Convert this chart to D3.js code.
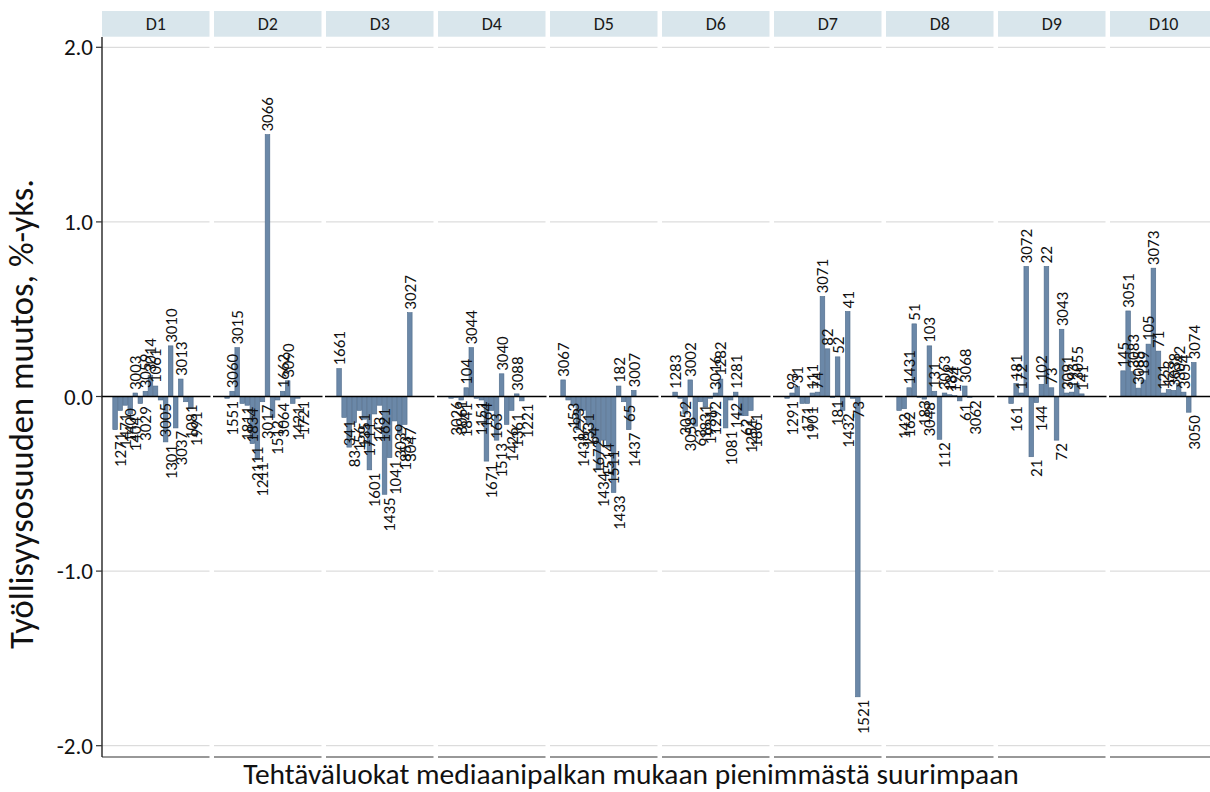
<!DOCTYPE html>
<html><head><meta charset="utf-8">
<script src="https://cdn.jsdelivr.net/npm/d3@7"></script>
<style>body{margin:0;background:#fff;} svg{display:block;}</style>
</head><body>
<svg id="chart" width="1210" height="792"></svg>
<script>
const deciles = ["D1","D2","D3","D4","D5","D6","D7","D8","D9","D10"];
const yTicks = [2, 1, 0, -1, -2];
const yTickLabels = ["2.0", "1.0", "0.0", "-1.0", "-2.0"];
const yTitle = "Työllisyysosuuden muutos, %-yks.";
const xTitle = "Tehtäväluokat mediaanipalkan mukaan pienimmästä suurimpaan";

const labelsD1 = ["1271","1471","1400","1404","3003","3029","3059","3014","1061","3005","1301","3010","3037","3013","1081","1991"];
const valuesD1 = [-0.19,-0.08,-0.05,-0.10,0.02,-0.04,0.03,0.12,0.06,-0.02,-0.26,0.29,-0.18,0.10,-0.03,-0.07];
const labelsD2 = ["1551","3060","3015","1811","1834","2111","1211","3017","3066","1512","3064","1662","3090","1421","1721"];
const valuesD2 = [-0.01,0.03,0.28,-0.04,-0.05,-0.27,-0.36,-0.03,1.50,-0.12,-0.02,0.03,0.09,-0.04,-0.01];
const labelsD3 = ["1661","341","83","156","1351","1711","1601","143","1621","1435","1041","3039","1853","3047","3027"];
const valuesD3 = [0.16,-0.12,-0.29,-0.15,-0.08,-0.13,-0.42,-0.10,-0.05,-0.56,-0.35,-0.14,-0.21,-0.16,0.48];
const labelsD4 = ["3026","3061","1841","104","3044","1151","164","1671","163","1513","3040","1426","1361","3088","1221"];
const valuesD4 = [-0.01,-0.005,-0.02,0.05,0.28,-0.01,-0.02,-0.37,-0.08,-0.25,0.13,-0.16,-0.08,0.015,-0.025];
const labelsD5 = ["3067","153","1293","1438","1331","64","1672","1434","1514","1511","1433","182","65","1437","3007"];
const valuesD5 = [0.095,-0.02,-0.05,-0.19,-0.08,-0.16,-0.23,-0.42,-0.25,-0.29,-0.55,0.06,-0.03,-0.19,0.035];
const labelsD6 = ["1283","3052","3058","3002","63","1831","1931","1292","3016","1282","1081","142","1281","62","1251","1861"];
const valuesD6 = [0.025,-0.01,-0.10,0.095,-0.17,-0.03,-0.06,-0.01,0.02,0.10,-0.18,-0.02,0.025,-0.11,-0.11,-0.08];
const labelsD7 = ["1291","93","31","171","1901","111","74","3071","82","181","52","1432","41","73","1521"];
const valuesD7 = [-0.01,0.02,0.057,-0.04,-0.04,0.02,0.025,0.573,0.273,-0.005,0.227,-0.08,0.487,-0.01,-1.72];
const labelsD8 = ["142","162","1431","51","183","3048","103","131","112","3063","184","194","61","3068","3062"];
const valuesD8 = [-0.08,-0.07,0.05,0.416,-0.005,-0.015,0.29,0.03,-0.245,0.02,0.01,0.005,-0.025,0.06,-0.005];
const labelsD9 = ["161","181","172","3072","21","144","102","22","73","72","3043","3091","193","3055","141"];
const valuesD9 = [-0.04,0.075,0.02,0.745,-0.345,-0.035,0.07,0.745,0.05,-0.25,0.385,0.02,0.025,0.075,0.015];
const labelsD10 = ["145","3051","3083","3085","189","105","3073","71","121","123","3038","3042","3054","3050","3074"];
const valuesD10 = [0.147,0.49,0.143,0.048,0.095,0.30,0.735,0.26,0.02,0.04,0.035,0.075,0.025,-0.09,0.195];

const series = [
  [labelsD1, valuesD1],[labelsD2, valuesD2],[labelsD3, valuesD3],[labelsD4, valuesD4],[labelsD5, valuesD5],
  [labelsD6, valuesD6],[labelsD7, valuesD7],[labelsD8, valuesD8],[labelsD9, valuesD9],[labelsD10, valuesD10]
];

const FONT = "Carlito, Calibri, Lato, 'Open Sans', sans-serif";
const svg = d3.select("#chart").style("font-family", FONT);
const panelLeft0 = 102, panelStep = 112, panelW = 107.5;
const panelTop = 37, panelBottom = 757;
const stripTop = 11, stripH = 25.7;

const y = d3.scaleLinear().domain([-2, 2]).range([745.7, 47.3]);
const x = d3.scaleLinear().domain([-2.6, 18.7]).range([0, panelW]);
const bw = (x(1) - x(0)) * 0.92;

deciles.forEach((dec, i) => {
  const [labs, vals] = series[i];
  const g = svg.append("g").attr("transform", `translate(${panelLeft0 + i * panelStep},0)`);
  g.append("rect").attr("x", 0).attr("y", stripTop).attr("width", panelW).attr("height", stripH)
    .attr("fill", "#d9e6ec");
  g.append("text").attr("x", panelW / 2).attr("y", stripTop + stripH / 2).attr("dy", "0.35em")
    .attr("text-anchor", "middle").attr("font-size", 18).attr("fill", "#1a1a1a").text(dec);
  g.selectAll("line.grid").data(yTicks).join("line").attr("class", "grid")
    .attr("x1", 0).attr("x2", panelW).attr("y1", d => y(d)).attr("y2", d => y(d))
    .attr("stroke", "#d4d4d4").attr("stroke-width", 1);
  const data = labs.map((l, j) => ({ l, v: vals[j], j }));
  g.selectAll("rect.bar").data(data).join("rect").attr("class", "bar")
    .attr("x", d => x(d.j) - bw / 2).attr("width", bw)
    .attr("y", d => Math.min(y(d.v), y(0))).attr("height", d => Math.abs(y(d.v) - y(0)))
    .attr("fill", "#6b88a8").attr("stroke", "#4e6b8a").attr("stroke-width", 0.6);
  g.append("line").attr("x1", -1).attr("x2", panelW + 1).attr("y1", y(0)).attr("y2", y(0))
    .attr("stroke", "#000").attr("stroke-width", 1.5);
  g.append("line").attr("x1", 0).attr("x2", panelW).attr("y1", panelBottom).attr("y2", panelBottom)
    .attr("stroke", "#333").attr("stroke-width", 1.2);
  g.selectAll("text.lab").data(data).join("text").attr("class", "lab")
    .attr("transform", d => d.v >= 0
      ? `translate(${x(d.j)},${y(d.v) - 3}) rotate(-90)`
      : `translate(${x(d.j) + 5},${y(d.v) + 3}) rotate(-90)`)
    .attr("dy", "0.35em")
    .attr("text-anchor", d => d.v >= 0 ? "start" : "end")
    .attr("font-size", 17).attr("fill", "#111").text(d => d.l);
});

const yAxis = svg.append("g");
yAxis.append("line").attr("x1", panelLeft0).attr("x2", panelLeft0).attr("y1", panelTop).attr("y2", panelBottom)
  .attr("stroke", "#111").attr("stroke-width", 1.3);
yTicks.forEach((t, k) => {
  yAxis.append("line").attr("x1", panelLeft0 - 6).attr("x2", panelLeft0).attr("y1", y(t)).attr("y2", y(t))
    .attr("stroke", "#333").attr("stroke-width", 1.2);
  yAxis.append("text").attr("x", panelLeft0 - 9).attr("y", y(t)).attr("dy", "0.35em")
    .attr("text-anchor", "end").attr("font-size", 23).attr("fill", "#111").text(yTickLabels[k]);
});

const xt = svg.append("text").attr("x", 631).attr("y", 784).attr("text-anchor", "middle")
  .attr("font-size", 24).attr("fill", "#111").text(xTitle);
const xl = xt.node().getComputedTextLength();
xt.attr("font-size", 24 * 776 / xl);
const yt = svg.append("text").attr("transform", "translate(33,414) rotate(-90)").attr("text-anchor", "middle")
  .attr("font-size", 24).attr("fill", "#111").text(yTitle);
const yl = yt.node().getComputedTextLength();
yt.attr("font-size", 24 * 470 / yl);
</script>
</body></html>
